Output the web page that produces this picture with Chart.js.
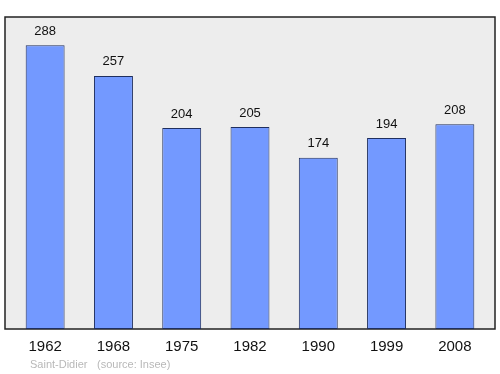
<!DOCTYPE html>
<html>
<head>
<meta charset="utf-8">
<script src="https://cdn.jsdelivr.net/npm/chart.js@4/dist/chart.umd.min.js"></script>
<style>
  html, body { margin: 0; padding: 0; background: #fff; }
  canvas { display: block; }
</style>
</head>
<body>
<canvas id="popChart" width="500" height="374"></canvas>
<script>
// données de population
const annees = ['1962', '1968', '1975', '1982', '1990', '1999', '2008'];
const population = [288, 257, 204, 205, 174, 194, 208];
const commune = 'Saint-Didier';
const source = '(source: Insee)';

const POLICE = '"Liberation Sans", Arial, sans-serif';

// cadre gris + bordure noire derrière les barres
const cadrePlugin = {
  id: 'cadre',
  beforeDatasetsDraw(chart) {
    const { ctx, chartArea } = chart;
    const l = chartArea.left - 6, r = chartArea.right + 6;
    ctx.save();
    ctx.fillStyle = '#ededed';
    ctx.fillRect(l, chartArea.top, r - l, chartArea.bottom - chartArea.top);
    ctx.strokeStyle = '#222';
    ctx.lineWidth = 1.5;
    ctx.strokeRect(l, chartArea.top, r - l, chartArea.bottom - chartArea.top);
    ctx.restore();
  },
  afterDraw(chart) {
    const { ctx } = chart;
    ctx.save();
    ctx.fillStyle = '#b8b8b8';
    ctx.font = '11px ' + POLICE;
    ctx.textBaseline = 'middle';
    ctx.fillText(commune, 30, 365);
    ctx.fillText(source, 97, 365);
    ctx.restore();
  }
};

// valeurs au-dessus des barres
const valeursPlugin = {
  id: 'valeurs',
  afterDatasetsDraw(chart) {
    const { ctx } = chart;
    const meta = chart.getDatasetMeta(0);
    ctx.save();
    ctx.fillStyle = '#111';
    ctx.font = '13px ' + POLICE;
    ctx.textAlign = 'center';
    ctx.textBaseline = 'middle';
    meta.data.forEach((bar, i) => {
      ctx.fillText(String(population[i]), bar.x, bar.y - 14);
    });
    ctx.restore();
  }
};

const ctx = document.getElementById('popChart').getContext('2d');
new Chart(ctx, {
  type: 'bar',
  data: {
    labels: annees,
    datasets: [{
      data: population,
      backgroundColor: '#7399ff',
      borderColor: '#1f2f5f',
      borderWidth: 1,
      borderSkipped: false,
      barPercentage: 0.57,
      categoryPercentage: 1
    }]
  },
  options: {
    responsive: false,
    animation: false,
    layout: { padding: { left: 11, right: 11, top: 17, bottom: 9 } },
    plugins: { legend: { display: false }, tooltip: { enabled: false } },
    scales: {
      x: {
        grid: { display: false, drawTicks: false },
        border: { display: false },
        ticks: {
          color: '#111',
          padding: 9,
          font: { size: 15, family: POLICE }
        }
      },
      y: {
        display: false,
        min: 0,
        max: 316.8
      }
    }
  },
  plugins: [cadrePlugin, valeursPlugin]
});
</script>
</body>
</html>
